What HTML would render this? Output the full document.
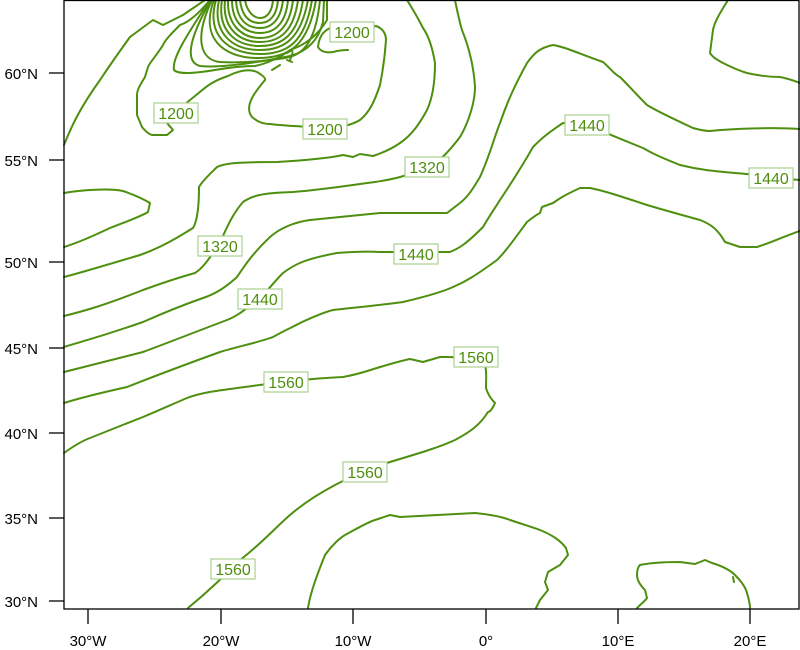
<!DOCTYPE html>
<html><head><meta charset="utf-8"><style>
body{margin:0;background:#fff;width:800px;height:650px;overflow:hidden}
svg{display:block}
text{font-family:"Liberation Sans",sans-serif}
.c{fill:none;stroke:#4e8f0f;stroke-width:2;stroke-linejoin:round;stroke-linecap:round}
.lb rect{fill:#fff;stroke:#a9d08e;stroke-width:1.2}
.lb text{fill:#4e8f0f;font-size:16px;text-anchor:middle}
.ax{font-size:15px;fill:#000}
</style></head><body>
<svg width="800" height="650" viewBox="0 0 800 650">
<g class="c">
<path d="M64,145 C72,125 80,108 100,80 C112,62 122,48 130,37 L153,20 L163,25 L183,15 L205,0"/>
<path d="M64,193 C80,190 110,188 123,191 C135,195 145,200 150,203 L148,212 C140,217 125,222 110,228 C95,235 80,242 64,247"/>
<path d="M64,277 C80,273 100,267 140,255 C160,248 177,238 193,228 C198,220 199,200 199,187 C203,180 212,172 217,167 C225,163 240,162 277,162 C310,160 330,158 343,155 L353,157 L360,154 L373,156 C385,152 393,148 400,143 C412,135 420,123 427,110 C433,97 435,80 435,63 C432,45 428,35 423,28 C418,18 412,8 407,0"/>
<path d="M64,316 C80,312 100,307 143,290 C165,282 177,278 195,273 C203,268 208,260 218,246 C225,233 230,217 243,202 C252,196 260,193 293,192 C320,190 345,186 375,182 C395,179 407,176 427,167 C440,162 450,150 460,137 C470,120 475,100 475,87 C474,70 470,50 462,30 C459,20 457,10 455,0"/>
<path d="M64,347 C80,342 100,337 143,322 C170,310 183,305 203,298 C215,294 225,288 237,277 C245,265 253,253 270,237 C280,228 295,222 310,220 C340,217 370,214 380,213 L447,213 L460,203 C470,195 475,185 480,177 C490,155 495,135 500,123 C508,100 515,85 527,63 C533,55 538,48 553,45 C565,47 575,52 603,62 C610,68 615,75 620,77 C628,85 637,95 647,105 C655,110 665,115 693,128 C700,130 705,131 710,131 C730,129 770,127 800,129"/>
<path d="M64,372 C80,368 100,363 143,352 C170,342 190,334 227,320 C240,315 250,305 260,299 C266,292 275,281 283,273 C295,264 305,259 337,253 C350,252 365,251 380,252 L450,252 C460,248 467,243 483,227 C490,215 495,208 500,200 C510,185 520,170 533,147 C540,140 545,135 563,123 L587,125 C600,130 610,135 643,148 C650,152 655,155 680,165 C700,170 713,171 747,174 C760,176 771,178 800,180"/>
<path d="M64,403 C80,398 100,393 127,387 C150,378 170,370 220,352 C240,346 260,342 273,337 C285,330 295,326 300,323 C315,316 325,312 333,310 C360,307 390,304 403,302 C420,298 440,293 453,287 C465,282 475,276 497,260 C505,252 510,245 527,222 C532,218 536,215 540,213 L542,207 L553,203 C560,198 565,195 580,188 L590,188 C600,190 608,192 647,205 C660,209 675,213 700,220 C710,224 717,228 725,242 L740,247 L757,247 C770,243 780,238 800,231"/>
<path d="M64,453 C75,445 82,441 90,438 C110,430 125,424 143,417 C160,410 175,403 187,398 C200,393 215,391 230,389 C260,385 300,379 343,377 C360,374 370,370 377,368 C390,364 400,361 410,359 L423,362 L440,357 C455,357 470,356 485,366 C487,370 486,380 486,388 C488,395 492,400 495,403 C493,408 490,412 488,412 C480,425 470,432 455,440 C440,447 420,453 390,462 C375,467 360,472 335,485 C320,493 305,502 290,515 C275,528 260,545 240,560 C225,575 210,590 188,608"/>
<path d="M728,0 C722,10 715,20 713,30 L710,53 C713,58 718,60 723,63 C733,68 740,71 747,73 C760,76 770,77 780,77 C790,79 795,81 800,83"/>
<path d="M210,0 C200,12 190,22 180,25 C172,33 165,40 163,45 C157,55 150,62 148,67 L145,77 C140,85 137,90 137,95 L137,115 L142,127 C147,133 150,135 153,135 L167,135 L173,130 L167,123 L177,113 C183,105 190,100 195,96 C205,88 210,82 228,76 C240,70 250,69 257,72 C262,75 266,78 265,80 C260,86 255,92 252,98 C248,106 248,112 252,117 C258,122 263,124 270,124 C285,126 300,126 325,128 C340,127 350,126 360,120 C370,112 375,100 380,85 C383,70 385,55 386,40 C386,33 382,28 376,26 L352,32 L330,28 C322,32 319,38 318,47 C321,52 326,53 333,52 C340,50 345,50 348,50"/>
<path d="M245,0 C247,12 254,18 260,18 C267,18 272,12 273,0"/>
<path d="M240,0 C242,17 250,23 260,23 C270,23 277,15 278,0"/>
<path d="M236,0 C237,20 247,28 260,28 C273,28 281,18 283,0"/>
<path d="M232,0 C232,23 245,33 260,33 C276,33 286,22 288,0"/>
<path d="M228,0 C227,26 243,38 260,38 C278,38 290,26 293,0"/>
<path d="M225,0 C222,29 240,42 260,42 C281,42 294,30 298,0"/>
<path d="M222,0 C217,31 236,46 260,46 C283,46 298,34 303,0"/>
<path d="M219,0 C212,33 232,50 260,50 C285,50 301,38 308,0"/>
<path d="M216,0 C206,35 228,54 260,54 C287,54 305,43 312,0"/>
<path d="M214,0 C200,37 222,58 258,58 C288,58 308,47 316,0"/>
<path d="M212,0 C194,38 200,60 220,62 C240,63 260,62 285,58 C300,55 315,48 320,0"/>
<path d="M211,0 C188,40 185,62 200,66 C220,68 250,64 290,56 C305,52 318,42 323,22 L324,0"/>
<path d="M210,0 C182,42 172,60 174,70 C178,74 190,74 215,70 C232,67 245,66 255,66 C265,64 280,58 290,50 C305,45 318,35 327,20 L327,0"/>
<path d="M287,53 C292,50 295,48 290,60 M287,60 L292,62 M272,70 L280,65"/>
<path d="M308,608 C310,595 315,580 325,555 C332,545 340,538 345,535 C358,528 368,522 375,520 L390,515 L400,517 C420,516 440,515 475,513 C495,515 505,518 510,520 C525,525 535,528 540,530 C552,535 560,540 566,548 L568,555 L560,565 L548,572 L545,582 L548,590 L540,600 L536,608"/>
<path d="M637,608 C642,603 646,600 647,598 L645,590 C640,585 637,580 637,575 C637,570 638,567 640,565 C650,563 660,562 680,562 L695,564 L705,560 L712,563 C722,566 730,570 735,575 C740,580 744,585 746,590 C748,596 750,602 750,608"/>
<path d="M733,577 L734,582"/>
</g>
<rect x="64" y="0.5" width="735" height="608.5" fill="none" stroke="#000" stroke-width="1.3"/>
<g stroke="#000" stroke-width="1.3">
<line x1="49" y1="73" x2="64" y2="73"/><line x1="49" y1="160" x2="64" y2="160"/><line x1="49" y1="262" x2="64" y2="262"/><line x1="49" y1="348" x2="64" y2="348"/><line x1="49" y1="433" x2="64" y2="433"/><line x1="49" y1="518" x2="64" y2="518"/><line x1="49" y1="601" x2="64" y2="601"/>
<line x1="88" y1="609" x2="88" y2="624"/><line x1="221" y1="609" x2="221" y2="624"/><line x1="353" y1="609" x2="353" y2="624"/><line x1="486" y1="609" x2="486" y2="624"/><line x1="618" y1="609" x2="618" y2="624"/><line x1="750" y1="609" x2="750" y2="624"/>
</g>
<g class="ax" text-anchor="end">
<text x="38" y="79">60°N</text><text x="38" y="166">55°N</text><text x="38" y="268">50°N</text><text x="38" y="354">45°N</text><text x="38" y="439">40°N</text><text x="38" y="524">35°N</text><text x="38" y="607">30°N</text>
</g>
<g class="ax" text-anchor="middle">
<text x="88" y="646">30°W</text><text x="221" y="646">20°W</text><text x="353" y="646">10°W</text><text x="486" y="646">0°</text><text x="618" y="646">10°E</text><text x="750" y="646">20°E</text>
</g>
<g class="lb">
<rect x="330" y="22" width="44" height="20"/><text x="352" y="38">1200</text>
<rect x="154" y="103" width="44" height="20"/><text x="176" y="119">1200</text>
<rect x="303" y="119" width="44" height="20"/><text x="325" y="135">1200</text>
<rect x="405" y="157" width="44" height="20"/><text x="427" y="173">1320</text>
<rect x="198" y="236" width="44" height="20"/><text x="220" y="252">1320</text>
<rect x="394" y="244" width="44" height="20"/><text x="416" y="260">1440</text>
<rect x="238" y="289" width="44" height="20"/><text x="260" y="305">1440</text>
<rect x="565" y="115" width="44" height="20"/><text x="587" y="131">1440</text>
<rect x="749" y="168" width="44" height="20"/><text x="771" y="184">1440</text>
<rect x="264" y="372" width="44" height="20"/><text x="286" y="388">1560</text>
<rect x="454" y="347" width="44" height="20"/><text x="476" y="363">1560</text>
<rect x="343" y="462" width="44" height="20"/><text x="365" y="478">1560</text>
<rect x="211" y="559" width="44" height="20"/><text x="233" y="575">1560</text>
</g>
</svg>
</body></html>
